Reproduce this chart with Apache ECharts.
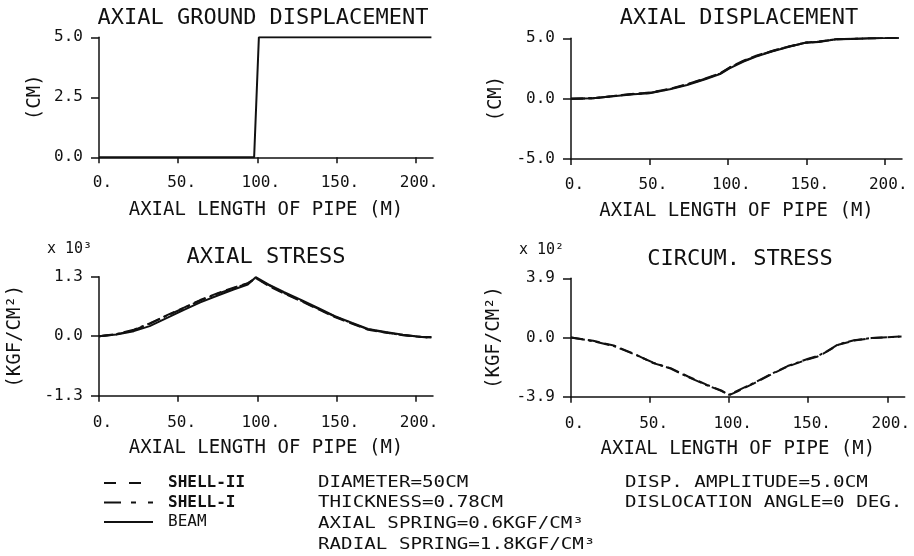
<!DOCTYPE html>
<html>
<head>
<meta charset="utf-8">
<script src="https://cdn.jsdelivr.net/npm/echarts@6/dist/echarts.min.js"></script>
<style>
  html, body { margin: 0; padding: 0; background: #fff; }
  #chart { width: 914px; height: 556px; }
</style>
</head>
<body>
<div id="chart"></div>
<script>
// axial ground displacement (input), cm
const groundX = [0, 98, 101, 210]
const groundY = [0, 0, 5, 5]

// axial displacement of pipe, cm
const dispX = [0, 14, 27, 40, 50, 63, 74, 86, 95, 101, 110, 118, 128, 139, 150, 158, 169, 179, 190, 209]
const dispBeam = [0, 0.03, 0.2, 0.36, 0.44, 0.77, 1.13, 1.63, 2.04, 2.5, 3.07, 3.48, 3.9, 4.3, 4.64, 4.7, 4.92, 4.95, 5.0, 5.05]
const dispShell2 = [0, 0.04, 0.22, 0.4, 0.5, 0.82, 1.2, 1.7, 2.1, 2.58, 3.15, 3.55, 3.95, 4.33, 4.66, 4.73, 4.93, 4.96, 5.0, 5.04]
const dispShell1 = [0, 0.03, 0.21, 0.38, 0.47, 0.8, 1.17, 1.67, 2.07, 2.55, 3.12, 3.52, 3.93, 4.32, 4.65, 4.72, 4.93, 4.96, 5.0, 5.05]

// axial stress, x10^3 kgf/cm2
const axX = [0, 11, 22, 32, 43, 54, 64, 75, 85, 94, 99, 107, 117, 128, 139, 149, 160, 170, 181, 192, 204, 210]
const axBeam = [0, 0.036, 0.11, 0.22, 0.4, 0.58, 0.74, 0.89, 1.02, 1.13, 1.29, 1.13, 0.96, 0.79, 0.61, 0.44, 0.29, 0.16, 0.09, 0.03, -0.015, -0.02]
const axShell2 = [0, 0.04, 0.13, 0.27, 0.46, 0.63, 0.79, 0.94, 1.06, 1.16, 1.27, 1.1, 0.93, 0.76, 0.58, 0.42, 0.27, 0.14, 0.08, 0.02, -0.02, -0.03]
const axShell1 = [0, 0.045, 0.14, 0.28, 0.45, 0.62, 0.78, 0.93, 1.05, 1.15, 1.27, 1.12, 0.94, 0.77, 0.59, 0.43, 0.28, 0.15, 0.08, 0.025, -0.02, -0.03]

// circumferential stress, x10^2 kgf/cm2
const circX = [0, 14, 27, 40, 52, 63, 74, 86, 95, 100, 105, 116, 126, 137, 150, 156, 162, 169, 179, 190, 209]
const circShell2 = [0, -0.22, -0.53, -1.08, -1.69, -2.02, -2.57, -3.12, -3.49, -3.8, -3.56, -3.01, -2.46, -1.91, -1.43, -1.25, -0.92, -0.48, -0.2, -0.04, 0.07]
const circShell1 = [0, -0.24, -0.56, -1.1, -1.66, -2.05, -2.6, -3.15, -3.52, -3.78, -3.52, -2.98, -2.43, -1.88, -1.4, -1.22, -0.9, -0.45, -0.18, -0.03, 0.06]

const xTicks = [0, 50, 100, 150, 200]
const legendNames = ['SHELL-II', 'SHELL-I', 'BEAM']
const infoLeft = ['DIAMETER=50CM', 'THICKNESS=0.78CM', 'AXIAL SPRING=0.6KGF/CM³', 'RADIAL SPRING=1.8KGF/CM³']
const infoRight = ['DISP. AMPLITUDE=5.0CM', 'DISLOCATION ANGLE=0 DEG.']

const FONT = 'DejaVu Sans Mono'
const INK = '#111'
const DASH2 = [12, 5]
const DASH1 = [14, 4, 3, 4]

const pts = (xs, ys) => xs.map((x, i) => [x, ys[i]])

const chart = echarts.init(document.getElementById('chart'))

function xAxisOf(gridIndex, margin) {
  return {
    gridIndex: gridIndex,
    type: 'value',
    min: 0,
    max: 211,
    name: 'AXIAL LENGTH OF PIPE (M)',
    nameLocation: 'middle',
    nameGap: 43,
    nameTextStyle: { fontFamily: FONT, fontSize: 19, color: INK },
    axisLine: { onZero: false, lineStyle: { color: INK, width: 1.5 } },
    axisTick: { customValues: xTicks, length: 6, lineStyle: { color: INK, width: 1.5 } },
    axisLabel: {
      customValues: xTicks,
      margin: margin,
      padding: [0, 0, 0, 7],
      fontFamily: FONT,
      fontSize: 16,
      color: INK,
      formatter: v => v + '.'
    },
    splitLine: { show: false }
  }
}

function yAxisOf(gridIndex, lim, name, gap) {
  return {
    gridIndex: gridIndex,
    type: 'value',
    min: lim[0],
    max: lim[1],
    name: name,
    nameLocation: 'middle',
    nameRotate: 90,
    nameGap: gap,
    nameTextStyle: { fontFamily: FONT, fontSize: 19, color: INK },
    axisLine: { onZero: false, lineStyle: { color: INK, width: 1.5 } },
    axisTick: { customValues: lim[2], length: 8, lineStyle: { color: INK, width: 1.5 } },
    axisLabel: {
      customValues: lim[2],
      margin: 16,
      fontFamily: FONT,
      fontSize: 16,
      color: INK,
      formatter: v => v.toFixed(1)
    },
    splitLine: { show: false }
  }
}

function lineOf(name, idx, data, dash) {
  return {
    name: name,
    type: 'line',
    xAxisIndex: idx,
    yAxisIndex: idx,
    data: data,
    symbol: 'none',
    silent: true,
    lineStyle: { color: INK, width: 2, type: dash || 'solid' }
  }
}

function titleOf(text, cx, top) {
  return {
    text: text,
    left: cx,
    top: top,
    textAlign: 'center',
    padding: 0,
    textStyle: { fontFamily: FONT, fontSize: 22, fontWeight: 'normal', color: INK, lineHeight: 22 }
  }
}

const infoText = []
infoLeft.forEach((t, i) => {
  infoText.push({
    type: 'text', x: 318, y: [483, 503, 524, 545][i], scaleX: 1.2,
    style: { text: t, fontFamily: FONT, fontSize: 16, fill: INK, verticalAlign: 'middle' }
  })
})
infoRight.forEach((t, i) => {
  infoText.push({
    type: 'text', x: 625, y: [483, 503][i], scaleX: 1.2,
    style: { text: t, fontFamily: FONT, fontSize: 16, fill: INK, verticalAlign: 'middle' }
  })
})
// scale factors of the stress panels
infoText.push({
  type: 'text', x: 47, y: 249,
  style: { text: 'x 10³', fontFamily: FONT, fontSize: 15, fill: INK, verticalAlign: 'middle' }
})
infoText.push({
  type: 'text', x: 519, y: 250,
  style: { text: 'x 10²', fontFamily: FONT, fontSize: 15, fill: INK, verticalAlign: 'middle' }
})

chart.setOption({
  animation: false,
  backgroundColor: '#fff',
  title: [
    titleOf('AXIAL GROUND DISPLACEMENT', 263, 7),
    titleOf('AXIAL DISPLACEMENT', 739, 7.5),
    titleOf('AXIAL STRESS', 266, 246.5),
    titleOf('CIRCUM. STRESS', 740, 248)
  ],
  grid: [
    { left: 99, right: 481, top: 37.3, bottom: 398.7 },
    { left: 571, right: 12, top: 38.3, bottom: 397 },
    { left: 99, right: 481, top: 276.7, bottom: 160.3 },
    { left: 571, right: 9.3, top: 278.3, bottom: 159.3 }
  ],
  xAxis: [xAxisOf(0, 18), xAxisOf(1, 18), xAxisOf(2, 19), xAxisOf(3, 19)],
  yAxis: [
    yAxisOf(0, [0, 5, [0, 2.5, 5]], '(CM)', 54),
    yAxisOf(1, [-5, 5, [-5, 0, 5]], '(CM)', 65),
    yAxisOf(2, [-1.3, 1.3, [-1.3, 0, 1.3]], '(KGF/CM²)', 74),
    yAxisOf(3, [-3.9, 3.9, [-3.9, 0, 3.9]], '(KGF/CM²)', 67)
  ],
  legend: {
    orient: 'vertical',
    left: 103,
    top: 475,
    padding: 0,
    itemWidth: 49,
    itemHeight: 16,
    itemGap: 3.5,
    itemStyle: { opacity: 0 },
    lineStyle: { width: 2, color: INK },
    data: [
      { name: 'SHELL-II', lineStyle: { type: [12, 13] } },
      { name: 'SHELL-I', lineStyle: { type: [17, 10, 5, 12] } },
      { name: 'BEAM' }
    ],
    formatter: n => n === 'BEAM' ? '{n|' + n + '}' : '{b|' + n + '}',
    textStyle: {
      fontFamily: FONT,
      fontSize: 16,
      color: INK,
      rich: {
        b: { fontFamily: FONT, fontSize: 16, fontWeight: 'bold', color: INK, padding: [0, 0, 0, 10] },
        n: { fontFamily: FONT, fontSize: 16, color: INK, padding: [0, 0, 0, 10] }
      }
    }
  },
  graphic: infoText,
  series: [
    lineOf('GROUND DISPLACEMENT', 0, pts(groundX, groundY)),
    lineOf('BEAM', 1, pts(dispX, dispBeam)),
    lineOf('SHELL-II', 1, pts(dispX, dispShell2), DASH2),
    lineOf('SHELL-I', 1, pts(dispX, dispShell1), DASH1),
    lineOf('BEAM', 2, pts(axX, axBeam)),
    lineOf('SHELL-II', 2, pts(axX, axShell2), DASH2),
    lineOf('SHELL-I', 2, pts(axX, axShell1), DASH1),
    lineOf('SHELL-II', 3, pts(circX, circShell2), DASH2),
    lineOf('SHELL-I', 3, pts(circX, circShell1), DASH1)
  ]
})
</script>
</body>
</html>
